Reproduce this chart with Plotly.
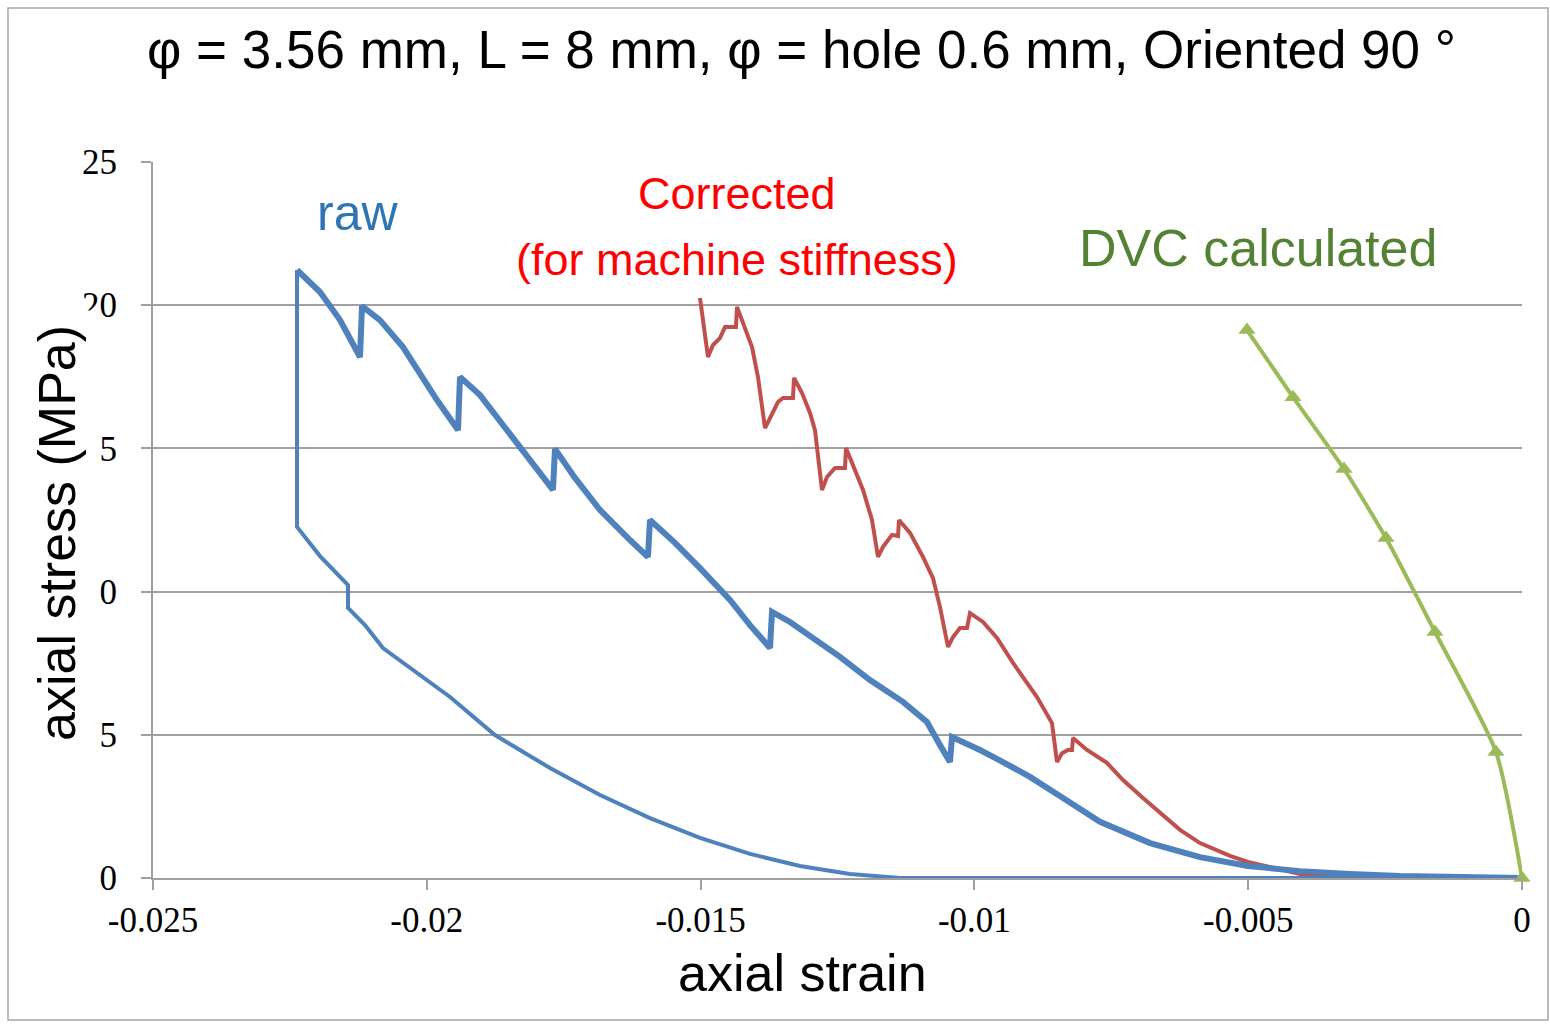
import plotly.graph_objects as go

# ---------------- data ----------------
raw_load_strain = [0, -0.001315, -0.002228, -0.003141, -0.004054, -0.005004, -0.00588, -0.006793,
                   -0.007706, -0.008382, -0.008985, -0.009478, -0.009898, -0.010409,
                   -0.010446, -0.010628, -0.010866, -0.011304, -0.011907, -0.012454, -0.013002,
                   -0.013367, -0.013696,
                   -0.013733, -0.014098, -0.014463, -0.015011, -0.015468, -0.015924,
                   -0.015961, -0.016289, -0.016837, -0.017294, -0.017659,
                   -0.017696, -0.018115, -0.018663, -0.019028, -0.019394,
                   -0.019430, -0.019814, -0.020435, -0.020855, -0.021183,
                   -0.021220, -0.021585, -0.021950, -0.022370]
raw_load_stress = [0, 0.035, 0.07, 0.14, 0.24, 0.42, 0.73, 1.22,
                   1.96, 2.79, 3.53, 4.05, 4.47, 4.92,
                   4.05, 4.64, 5.45, 6.15, 6.91, 7.72, 8.48,
                   8.94, 9.29,
                   8.03, 8.83, 9.71, 10.82, 11.70, 12.50,
                   11.21, 11.80, 12.85, 13.97, 14.98,
                   13.55, 14.59, 15.99, 16.86, 17.49,
                   15.64, 16.69, 18.54, 19.48, 19.97,
                   18.19, 19.48, 20.46, 21.23]

raw_unload_strain = [-0.022370, -0.022370, -0.021950, -0.021439, -0.021439, -0.021129, -0.020800,
                     -0.020307, -0.019576, -0.018755, -0.017750, -0.016837, -0.015924,
                     -0.015011, -0.014098, -0.013185, -0.012272, -0.011359, -0.008, -0.004, 0]
raw_unload_stress = [21.23, 12.26, 11.24, 10.23, 9.43, 8.83, 8.03,
                     7.33, 6.32, 4.99, 3.84, 2.90, 2.09,
                     1.40, 0.84, 0.42, 0.14, 0.0, 0.0, 0.0, 0.0]

corr_strain = [-0.015011, -0.014956, -0.014865, -0.014774, -0.014646, -0.014554, -0.014354,
               -0.014335, -0.014189, -0.014061, -0.013952, -0.013824, -0.013733, -0.013587,
               -0.013495, -0.013313, -0.013294, -0.013148, -0.013002, -0.012911, -0.012783,
               -0.012692, -0.012546, -0.012363, -0.012345, -0.012217, -0.012034, -0.011870,
               -0.011760, -0.011669, -0.011505, -0.011395, -0.011377, -0.011176, -0.010939,
               -0.010756, -0.010628, -0.010482, -0.010391, -0.010263, -0.010135, -0.010080,
               -0.009843, -0.009587, -0.009295, -0.008857, -0.008583, -0.008492, -0.008400,
               -0.008291, -0.008218, -0.008199, -0.007944, -0.007579, -0.007286, -0.006921,
               -0.006611, -0.006245, -0.005880, -0.005332, -0.005004, -0.004419, -0.004054,
               -0.003141, -0.002228]
corr_stress = [20.25, 19.48, 18.19, 18.61, 18.85, 19.24, 19.24,
               19.94, 19.24, 18.54, 17.49, 15.71, 16.06, 16.62,
               16.76, 16.76, 17.46, 16.93, 16.24, 15.64, 13.55,
               14.00, 14.32, 14.32, 15.01, 14.42, 13.55, 12.50,
               11.21, 11.56, 11.98, 11.94, 12.50, 12.05, 11.21,
               10.47, 9.46, 8.07, 8.41, 8.73, 8.73, 9.25,
               8.94, 8.38, 7.51, 6.32, 5.41, 4.05, 4.36,
               4.47, 4.47, 4.89, 4.47, 4.02, 3.42, 2.79,
               2.30, 1.68, 1.22, 0.77, 0.56, 0.28, 0.14,
               0.035, 0.0]

dvc_strain = [-0.005022, -0.004182, -0.003251, -0.002484, -0.001589, -0.000475, 0.0]
dvc_stress = [19.13, 16.79, 14.28, 11.87, 8.59, 4.40, 0.0]

x_tickvals = [-0.025, -0.02, -0.015, -0.01, -0.005, 0]
x_ticktext = ["-0.025", "-0.02", "-0.015", "-0.01", "-0.005", "0"]
y_tickvals = [0, 5, 10, 15, 20, 25]
y_ticktext = ["0", "5", "10", "15", "20", "25"]

# ---------------- styling ----------------
BLUE = "#4F81BD"
RED = "#C0504D"
GREEN = "#9BBB59"
GRID = "#A0A0A0"
SANS = "Liberation Sans, Arial, sans-serif"
SERIF = "Liberation Serif, Times New Roman, serif"

fig = go.Figure()

fig.add_trace(go.Scatter(x=corr_strain, y=corr_stress, mode="lines",
                         line=dict(color=RED, width=4), name="Corrected"))
fig.add_trace(go.Scatter(x=raw_unload_strain, y=raw_unload_stress, mode="lines",
                         line=dict(color=BLUE, width=4), name="raw unloading"))
fig.add_trace(go.Scatter(x=raw_load_strain, y=raw_load_stress, mode="lines",
                         line=dict(color=BLUE, width=6), name="raw"))
fig.add_trace(go.Scatter(x=dvc_strain, y=dvc_stress, mode="lines+markers",
                         line=dict(color=GREEN, width=4, shape="spline", smoothing=0.6),
                         marker=dict(symbol="triangle-up", size=15, color=GREEN),
                         cliponaxis=False, name="DVC calculated"))

L, R, T, B = 153, 28, 162, 146
W, H = 1550, 1024
pw, ph = W - L - R, H - T - B


def px(xp):
    return (xp - L) / pw


def py(yp):
    return (H - B - yp) / ph


fig.update_layout(
    width=W, height=H,
    margin=dict(l=L, r=R, t=T, b=B, pad=0),
    paper_bgcolor="white", plot_bgcolor="white",
    showlegend=False,
    font=dict(family=SANS, color="black"),
    xaxis=dict(range=[-0.025, 0], tickvals=x_tickvals, ticktext=x_ticktext,
               showgrid=False, zeroline=False, showline=True, linecolor=GRID, linewidth=2,
               ticks="outside", ticklen=10, tickwidth=2, tickcolor=GRID,
               tickfont=dict(family=SERIF, size=35, color="black"), ticklabelstandoff=0),
    yaxis=dict(range=[0, 25], tickvals=y_tickvals, ticktext=y_ticktext,
               showgrid=True, gridcolor=GRID, gridwidth=2, zeroline=False,
               showline=True, linecolor=GRID, linewidth=2,
               ticks="outside", ticklen=10, tickwidth=2, tickcolor=GRID,
               tickfont=dict(family=SERIF, size=35, color="black"), ticklabelstandoff=17),
)

annotations = [
    dict(text="φ = 3.56 mm, L = 8 mm, φ = hole 0.6 mm, Oriented 90 °", x=px(801), y=py(50),
         xref="paper", yref="paper", showarrow=False, font=dict(size=53, family=SANS, color="black"),
         xanchor="center", yanchor="middle"),
    dict(text="axial strain", x=px(802), y=py(973), xref="paper", yref="paper", showarrow=False,
         font=dict(size=52, family=SANS, color="black"), xanchor="center", yanchor="middle"),
    dict(text="axial stress (MPa)", x=px(57), y=py(533), xref="paper", yref="paper", showarrow=False,
         textangle=-90, font=dict(size=52, family=SANS, color="black"),
         xanchor="center", yanchor="middle", bgcolor="white", borderpad=14),
    dict(text="raw", x=px(357), y=py(213), xref="paper", yref="paper", showarrow=False,
         font=dict(size=50, family=SANS, color="#2E75B6"), xanchor="center", yanchor="middle"),
    dict(text="Corrected", x=px(737), y=py(194), xref="paper", yref="paper", showarrow=False,
         font=dict(size=45, family=SANS, color="#FF0000"), xanchor="center", yanchor="middle"),
    dict(text="(for machine stiffness)", x=px(737), y=py(259), xref="paper", yref="paper",
         showarrow=False, font=dict(size=45, family=SANS, color="#FF0000"),
         xanchor="center", yanchor="middle"),
    dict(text="DVC calculated", x=px(1258), y=py(248), xref="paper", yref="paper", showarrow=False,
         font=dict(size=52, family=SANS, color="#548235"), xanchor="center", yanchor="middle"),
]
fig.update_layout(annotations=annotations)

fig.add_shape(type="rect", xref="paper", yref="paper",
              x0=px(8), x1=px(1548), y0=py(1020), y1=py(8),
              line=dict(color="#A6A6A6", width=1.5), fillcolor="rgba(0,0,0,0)", layer="below")

fig.write_html("out.html", config={"displayModeBar": False},
               post_script="document.body.style.margin='0';")
